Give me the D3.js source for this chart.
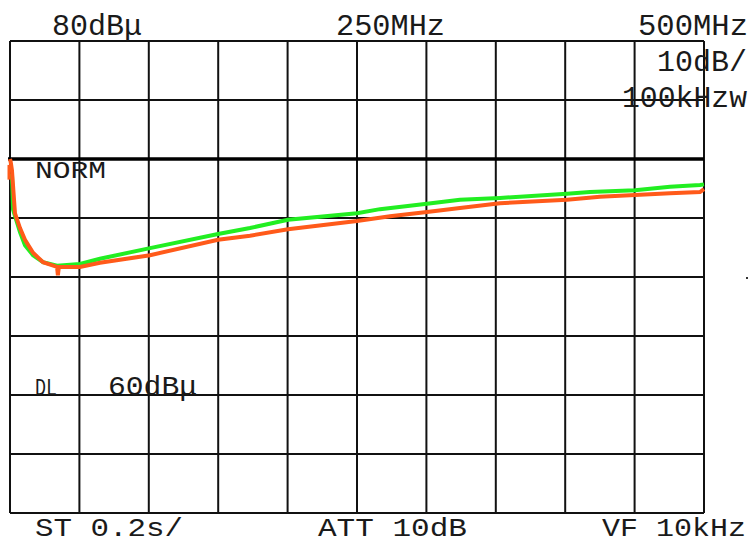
<!DOCTYPE html>
<html>
<head>
<meta charset="utf-8">
<script src="https://cdn.jsdelivr.net/npm/d3@7"></script>
<style>
  body { margin: 0; background: #fff; }
  text { font-family: "Liberation Mono", "DejaVu Sans Mono", monospace; fill: #1a1a1a; }
</style>
</head>
<body>
<div id="wrapper"></div>
<script>
// spectrum analyser screen: 0..500 MHz, ref 80 dBu, 10 dB/div

const xTicks = [0, 50, 100, 150, 200, 250, 300, 350, 400, 450, 500]
const yTicks = [0, 10, 20, 30, 40, 50, 60, 70, 80]
const normLevel = 60

// orange trace (MHz, dBu)
const orangeFreq = [0, 0.5, 1.4, 3.6, 7.2, 10.8, 16.6, 23.8, 33.9, 34.5, 35.2, 50.4, 64.8, 100.9, 149.9, 172.9, 200.3, 250, 273.8, 300.4, 324.2, 353, 401.3, 425, 450.3, 475.5, 497.1, 500]
const orangeLevel = [60, 59.5, 58.1, 50.8, 48.3, 46.3, 44.1, 42.5, 41.7, 40.3, 41.7, 41.7, 42.4, 43.7, 46.3, 47.0, 48.1, 49.5, 50.3, 51.0, 51.7, 52.5, 53.1, 53.6, 53.9, 54.2, 54.4, 54.9]

// green trace (MHz, dBu)
const greenFreq = [1.4, 2.2, 7.2, 10.8, 16.6, 23.8, 33.9, 50.4, 64.8, 100.9, 149.9, 172.9, 200.3, 250, 266.6, 300.4, 324.2, 353, 401.3, 417.9, 450.3, 475.5, 497.1, 500]
const greenLevel = [57.5, 51.4, 47.6, 45.4, 43.7, 42.5, 41.9, 42.2, 43.1, 44.9, 47.3, 48.3, 49.7, 50.8, 51.5, 52.4, 53.1, 53.4, 54.1, 54.4, 54.7, 55.3, 55.6, 55.7]

// screen annotations
const labels = [
  { text: "80dB\u03bc", x: 52, y: 35, w: 90, size: 29 },
  { text: "250MHz", x: 336, y: 35, w: 109, size: 29 },
  { text: "500MHz", x: 638, y: 35, w: 110, size: 29 },
  { text: "10dB/", x: 657, y: 71, w: 90, size: 29 },
  { text: "100kHzw", x: 622, y: 107, w: 125, size: 29 },
  { text: "NORM", x: 35, y: 178, w: 71, size: 24 },
  { text: "DL", x: 35, y: 395, w: 22, size: 23 },
  { text: "60dB\u03bc", x: 108, y: 395, w: 89, size: 28 },
  { text: "ST 0.2s/", x: 35, y: 536, w: 148, size: 26 },
  { text: "ATT 10dB", x: 318, y: 536, w: 149, size: 26 },
  { text: "VF 10kHz", x: 602, y: 536, w: 144, size: 26 },
]

const width = 749
const height = 544
const plot = { left: 10, right: 704, top: 41, bottom: 513 }

const svg = d3.select("#wrapper")
  .append("svg")
    .attr("width", width)
    .attr("height", height)

const xScale = d3.scaleLinear()
  .domain([0, 500])
  .range([plot.left, plot.right])

const yScale = d3.scaleLinear()
  .domain([0, 80])
  .range([plot.bottom, plot.top])

// grid
const grid = svg.append("g")
grid.selectAll(".v")
  .data(xTicks)
  .join("line")
    .attr("x1", d => xScale(d))
    .attr("x2", d => xScale(d))
    .attr("y1", plot.top)
    .attr("y2", plot.bottom)
    .attr("stroke", "#111")
    .attr("stroke-width", 2)
grid.selectAll(".h")
  .data(yTicks)
  .join("line")
    .attr("x1", plot.left)
    .attr("x2", plot.right)
    .attr("y1", d => yScale(d))
    .attr("y2", d => yScale(d))
    .attr("stroke", "#111")
    .attr("stroke-width", 2)

// NORM reference line
svg.append("line")
  .attr("x1", plot.left - 2)
  .attr("x2", plot.right)
  .attr("y1", yScale(normLevel))
  .attr("y2", yScale(normLevel))
  .attr("stroke", "#000")
  .attr("stroke-width", 3.5)

const line = d3.line()
  .x(d => xScale(d[0]))
  .y(d => yScale(d[1]))

svg.append("path")
  .datum(d3.zip(greenFreq, greenLevel))
  .attr("d", line)
  .attr("fill", "none")
  .attr("stroke", "#22ee22")
  .attr("stroke-width", 4)

svg.append("path")
  .datum(d3.zip(orangeFreq, orangeLevel))
  .attr("d", line)
  .attr("fill", "none")
  .attr("stroke", "#ff5a1a")
  .attr("stroke-width", 4)

// small stub at trace start
svg.append("line")
  .attr("x1", xScale(0) - 1)
  .attr("x2", xScale(0) - 1)
  .attr("y1", yScale(59))
  .attr("y2", yScale(56.5))
  .attr("stroke", "#ff5a1a")
  .attr("stroke-width", 3)

svg.selectAll(".label")
  .data(labels)
  .join("text")
    .attr("x", d => d.x)
    .attr("y", d => d.y)
    .attr("font-size", d => d.size)
    .attr("textLength", d => d.w)
    .attr("lengthAdjust", "spacingAndGlyphs")
    .text(d => d.text)

// stray dot at right edge
svg.append("rect")
  .attr("x", 746)
  .attr("y", 277)
  .attr("width", 2)
  .attr("height", 2)
  .attr("fill", "#333")
</script>
</body>
</html>
